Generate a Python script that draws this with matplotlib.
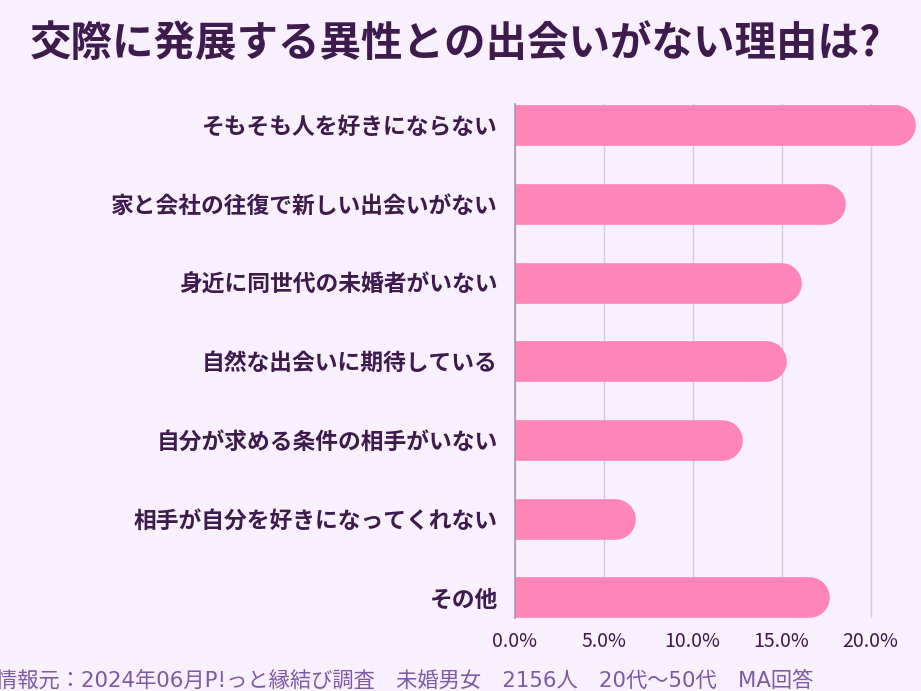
import matplotlib
matplotlib.use("Agg")
import matplotlib.pyplot as plt
import matplotlib.transforms as mtransforms
import numpy as np

plt.rcParams['font.family'] = ['Noto Sans CJK JP', 'DejaVu Sans']

# data
reasons = [
    "そもそも人を好きにならない",
    "家と会社の往復で新しい出会いがない",
    "身近に同世代の未婚者がいない",
    "自然な出会いに期待している",
    "自分が求める条件の相手がいない",
    "相手が自分を好きになってくれない",
    "その他",
]
percent = [22.5, 18.6, 16.1, 15.3, 12.8, 6.8, 17.7]
tick_vals = [0, 5, 10, 15, 20]
tick_labels = ["0.0%", "5.0%", "10.0%", "15.0%", "20.0%"]

title = "交際に発展する異性との出会いがない理由は?"
source = "情報元：2024年06月P!っと縁結び調査　未婚男女　2156人　20代〜50代　MA回答"

bg = "#F8F0FD"
pink = "#FF85B9"
dark = "#3D1B4C"
W, H = 921, 691

fig = plt.figure(figsize=(W / 100, H / 100), dpi=100, facecolor=bg)
ax = fig.add_axes([514.5 / W, 72.7 / H, 406.5 / W, 514.3 / H])
ax.set_facecolor(bg)

bar_lw = 29.3  # points
cap = bar_lw / 2
shift = mtransforms.offset_copy(ax.transData, fig=fig, x=-cap, y=0, units='points')
ypos = np.arange(len(reasons))
for y, v in zip(ypos, percent):
    ax.plot([0, v], [y, y], color=pink, lw=bar_lw, solid_capstyle='round',
            transform=shift, zorder=3)

ax.set_xlim(0, 406.5 / 17.8)
ax.set_ylim(6.265, -0.27)
ax.set_yticks(ypos)
ax.set_yticklabels(reasons, fontsize=16.4, fontweight='bold', color=dark)
ax.set_xticks(tick_vals)
ax.set_xticklabels(tick_labels, fontsize=14, color=dark)
ax.tick_params(axis='both', length=0)
ax.tick_params(axis='y', pad=12)
ax.tick_params(axis='x', pad=9)

ax.grid(axis='x', color='#D8C8E2', lw=1.0, zorder=0)
ax.set_axisbelow(True)
for s in ['top', 'right', 'bottom']:
    ax.spines[s].set_visible(False)
ax.spines['left'].set_color('#A895B8')
ax.spines['left'].set_linewidth(1.2)
ax.spines['left'].set_zorder(4)

fig.text(30 / W, 1 - 44 / H, title, fontsize=29.9, fontweight='bold',
         color=dark, va='center', ha='left')
fig.text(-4 / W, 1 - 680 / H, source, fontsize=15.3,
         family=['DejaVu Sans', 'Noto Sans CJK JP'], color='#7D5AA5',
         va='center', ha='left')

fig.savefig("out.png", dpi=100, facecolor=bg)
